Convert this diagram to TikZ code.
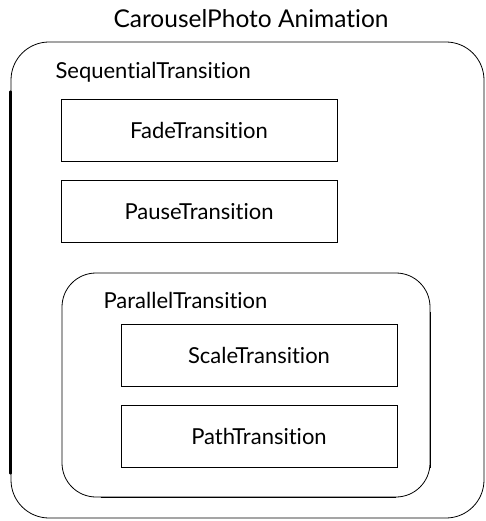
\documentclass[tikz,border=0pt]{standalone}
\usepackage{fontspec}
\setmainfont[Ligatures={NoCommon}]{Lato}
\usetikzlibrary{positioning}
\tikzset{
  trbox/.style={draw,line width=0.8pt,minimum width=276pt,minimum height=62pt,
    font=\fontsize{22}{26}\selectfont},
  groupbox/.style={draw,line width=0.8pt,rounded corners=38pt},
  grouplabel/.style={anchor=west,font=\fontsize{22}{26}\selectfont},
  heavy/.style={line width=2.6pt,line cap=round}
}
\begin{document}
\begin{tikzpicture}[x=1pt,y=-1pt]
  \useasboundingbox (0,0) rectangle (486,521);
  \node[font=\fontsize{24.5}{28}\selectfont] (title) at (251,19) {CarouselPhoto Animation};
  % outer sequential group
  \node[groupbox,minimum width=473pt,minimum height=476pt] (seq) at (247.5,280) {};
  \node[grouplabel] (seqlab) at (52,72) {SequentialTransition};
  \node[trbox] (fade) at (199,130) {FadeTransition};
  \node[trbox,below=19pt of fade] (pause) {PauseTransition};
  % inner parallel group
  \node[groupbox,rounded corners=34pt,minimum width=368pt,minimum height=224pt] (par) at (246,385) {};
  \node[grouplabel] (parlab) at (100,300) {ParallelTransition};
  \node[trbox] (scale) at (259,355) {ScaleTransition};
  \node[trbox,below=19pt of scale] (path) {PathTransition};
  % heavier pen strokes
  \draw[heavy] ([yshift=-50pt]seq.north west) -- ([yshift=45pt]seq.south west);
  \draw[heavy,line width=1.6pt] ([yshift=-40pt]par.north east) -- ([yshift=30pt]par.south east);
  \draw[heavy,line width=1.8pt] ([xshift=40pt]par.south west) -- ([xshift=-35pt]par.south east);
\end{tikzpicture}
\end{document}
